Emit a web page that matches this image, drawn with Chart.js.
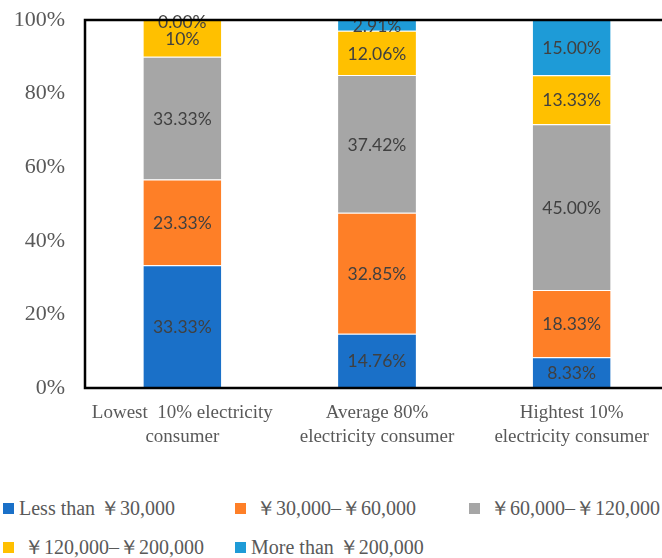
<!DOCTYPE html>
<html>
<head>
<meta charset="utf-8">
<script src="https://cdn.jsdelivr.net/npm/chart.js@4.4.1/dist/chart.umd.min.js"></script>
<style>
  html, body { margin: 0; padding: 0; background: #fff; overflow: hidden; }
  #wrap { position: relative; width: 662px; height: 558px; overflow: hidden; }
  #box { position: absolute; left: 0; top: 0; width: 670px; height: 460px; }
  #legend {
    position: absolute; left: 0; top: 496px; width: 662px;
    display: grid; grid-template-columns: 232px 234px 196px; row-gap: 15px;
    font-family: "Liberation Serif", "Times New Roman", serif; font-size: 20px; color: #595959;
  }
  .item { display: flex; align-items: center; white-space: pre; height: 24px; }
  .sw { width: 11px; height: 11px; margin: 0 5px 0 3px; flex: none; }
</style>
</head>
<body>
<div id="wrap">
  <div id="box"><canvas id="incomeChart"></canvas></div>
  <div id="legend"></div>
</div>
<script>
var categories = [['Lowest  10% electricity', 'consumer'], ['Average 80%', 'electricity consumer'], ['Hightest 10%', 'electricity consumer']];
var seriesNames = ['Less than \uFFE530,000', ' \uFFE530,000\u2013\uFFE560,000', ' \uFFE560,000\u2013\uFFE5120,000', ' \uFFE5120,000\u2013\uFFE5200,000', 'More than \uFFE5200,000'];
var lessThan30k = [33.33, 14.76, 8.33];
var from30kTo60k = [23.33, 32.85, 18.33];
var from60kTo120k = [33.33, 37.42, 45.00];
var from120kTo200k = [10, 12.06, 13.33];
var moreThan200k = [0, 2.91, 15.00];
var yTicks = [0, 20, 40, 60, 80, 100];
var colors = ['#1a70c8', '#fe7f27', '#a6a6a6', '#ffc000', '#1e9bd7'];

var values = [lessThan30k, from30kTo60k, from60kTo120k, from120kTo200k, moreThan200k];

// labels on the bars, "10%" is shown without decimals in the original
function labelText(d, i) {
  var v = values[d][i];
  if (d == 3 && i == 0) return v + '%';
  return v.toFixed(2) + '%';
}

var barLabels = {
  id: 'barLabels',
  afterDatasetsDraw: function (chart) {
    var ctx = chart.ctx;
    ctx.save();
    ctx.font = '17.5px Lato, "Open Sans", sans-serif';
    ctx.fillStyle = '#404040';
    ctx.textAlign = 'center';
    ctx.textBaseline = 'middle';
    chart.data.datasets.forEach(function (ds, d) {
      chart.getDatasetMeta(d).data.forEach(function (bar, i) {
        var y = (bar.y + bar.base) / 2 + 1;
        if (values[d][i] == 0) y = bar.y + 2;
        ctx.fillText(labelText(d, i), bar.x, y);
      });
    });
    ctx.restore();
  }
};

var frame = {
  id: 'frame',
  afterDraw: function (chart) {
    var a = chart.chartArea, ctx = chart.ctx;
    ctx.save();
    ctx.strokeStyle = '#000';
    ctx.lineWidth = 2.5;
    ctx.beginPath();
    ctx.moveTo(a.right + 5, a.top);
    ctx.lineTo(a.left, a.top);
    ctx.lineTo(a.left, a.bottom);
    ctx.lineTo(a.right + 5, a.bottom);
    ctx.stroke();
    ctx.restore();
  }
};

var ctx = document.getElementById('incomeChart').getContext('2d');
var incomeChart = new Chart(ctx, {
  type: 'bar',
  data: {
    labels: categories,
    datasets: values.map(function (v, d) {
      return {
        label: seriesNames[d],
        data: v,
        backgroundColor: colors[d],
        borderColor: '#ffffff',
        borderWidth: { top: 1, bottom: 0, left: 0, right: 0 },
        borderSkipped: false,
        barPercentage: 0.4,
        categoryPercentage: 1
      };
    })
  },
  options: {
    responsive: true,
    maintainAspectRatio: false,
    animation: false,
    layout: { padding: { top: 20, right: 1, left: 0, bottom: 0 } },
    plugins: { legend: { display: false }, tooltip: { enabled: false } },
    scales: {
      x: {
        stacked: true,
        grid: { display: false, drawTicks: false },
        border: { display: false },
        afterFit: function (s) {
          s.height = 72;
          s.paddingLeft = 0;
          s.paddingRight = 0;
        },
        ticks: {
          padding: 13,
          maxRotation: 0,
          color: '#595959',
          font: { family: '"Liberation Serif", "Times New Roman", serif', size: 19, lineHeight: '24px' }
        }
      },
      y: {
        stacked: true,
        min: 0,
        max: 100,
        grid: { display: false, drawTicks: false },
        border: { display: false },
        afterFit: function (s) {
          s.width = 85;
          s.paddingTop = 0;
          s.paddingBottom = 0;
        },
        afterBuildTicks: function (s) { s.ticks = yTicks.map(function (v) { return { value: v }; }); },
        ticks: {
          padding: 20,
          color: '#595959',
          font: { family: '"Liberation Serif", "Times New Roman", serif', size: 22 },
          callback: function (value) { return value + '%'; }
        }
      }
    }
  },
  plugins: [barLabels, frame]
});

var legend = document.getElementById('legend');
seriesNames.forEach(function (name, d) {
  var item = document.createElement('div');
  item.className = 'item';
  var sw = document.createElement('span');
  sw.className = 'sw';
  sw.style.background = colors[d];
  item.appendChild(sw);
  item.appendChild(document.createTextNode(name));
  legend.appendChild(item);
});
</script>
</body>
</html>
